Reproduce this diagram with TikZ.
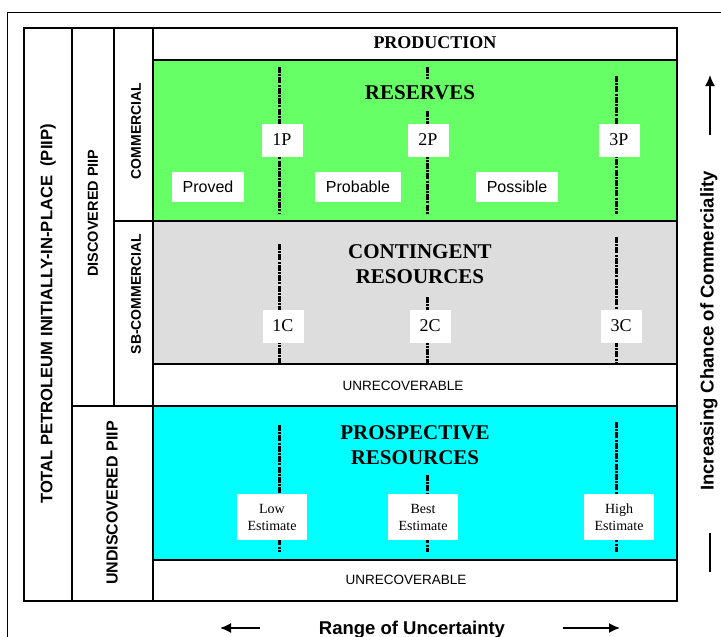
\documentclass[tikz,border=0pt]{standalone}
\usepackage{fontspec}
\setmainfont{Liberation Serif}
\setsansfont{Liberation Sans}
\usepackage{tikz}
\usetikzlibrary{positioning,arrows.meta}

\definecolor{resgreen}{RGB}{102,255,102}
\definecolor{congray}{RGB}{221,221,221}
\definecolor{procyan}{RGB}{0,255,255}

\begin{document}
\begin{tikzpicture}[x=1pt,y=-1pt,>={Latex[length=11pt,width=10pt]},
  frame/.style={line width=2.2pt},
  cut/.style={line width=3pt,dash pattern=on 6pt off 1.2pt on 2pt off 1.2pt},
  tag/.style={fill=white,font=\fontsize{18}{18}\selectfont,minimum width=41pt,minimum height=33pt,inner sep=0pt},
  cls/.style={fill=white,font=\sffamily\fontsize{16}{16}\selectfont,minimum height=30pt,inner xsep=11pt,inner ysep=0pt},
  est/.style={fill=white,font=\fontsize{14}{17}\selectfont,align=center,minimum width=70pt,minimum height=46pt,inner sep=0pt},
  head/.style={font=\bfseries\fontsize{21}{25}\selectfont,align=center,inner sep=1pt},
  side/.style={font=\sffamily\bfseries,rotate=90,inner sep=1pt},
  note/.style={font=\sffamily\fontsize{13.5}{13.5}\selectfont}]

  \useasboundingbox (0,0) rectangle (721,637);
  \draw[line width=1pt] (7,637) -- (7,12) -- (721,12);

  % class areas
  \fill[resgreen] (153,60) rectangle (677,221);
  \fill[congray] (153,221) rectangle (677,364);
  \fill[procyan] (153,406) rectangle (677,560);

  % cut-off lines
  \foreach \x/\a/\b in {279/67/214, 427/67/79, 427/111/214, 616/76/214,
                        279/244/364, 427/297/364, 616/237/364,
                        279/425/552, 427/475/552, 616/422/552}
    \draw[cut] (\x,\a) -- (\x,\b);

  % frame
  \draw[frame] (24,28) rectangle (677,601);
  \draw[frame] (72,28) -- (72,601);
  \draw[frame] (114,28) -- (114,406);
  \draw[frame] (153,28) -- (153,601);
  \draw[frame] (153,60) -- (677,60);
  \draw[frame] (114,221) -- (677,221);
  \draw[frame] (153,364) -- (677,364);
  \draw[frame] (72,406) -- (677,406);
  \draw[frame] (153,560) -- (677,560);

  % headings
  \node[head,font=\bfseries\fontsize{18}{18}\selectfont] (prod) at (435,43) {PRODUCTION};
  \node[head] (res) at (420,93) {RESERVES};
  \node[head] (cont) at (420,264) {CONTINGENT\\RESOURCES};
  \node[head] (prosp) at (415,445) {PROSPECTIVE\\RESOURCES};
  \node[note] (unrec1) at (403,386) {UNRECOVERABLE};
  \node[note] (unrec2) at (406,580) {UNRECOVERABLE};

  % reserves
  \node[tag] (p1) at (282,140) {1P};
  \node[tag] (p2) at (428,140) {2P};
  \node[tag] (p3) at (619,140) {3P};
  \node[cls] (proved) at (208,187) {Proved};
  \node[cls] (probable) at (358,187) {Probable};
  \node[cls] (possible) at (517,187) {Possible};

  % contingent
  \node[tag] (c1) at (283,326) {1C};
  \node[tag] (c2) at (430,326) {2C};
  \node[tag] (c3) at (621,326) {3C};

  % prospective
  \node[est] (low) at (272,517) {Low\\Estimate};
  \node[est] (best) at (423,517) {Best\\Estimate};
  \node[est] (high) at (619,517) {High\\Estimate};

  % side labels
  \node[side,font=\sffamily\bfseries\fontsize{16.6}{16.6}\selectfont] (piip) at (48,314) {TOTAL PETROLEUM INITIALLY-IN-PLACE~~(PIIP)};
  \node[side,font=\sffamily\bfseries\fontsize{14.5}{14.5}\selectfont] (disc) at (93,213) {DISCOVERED PIIP};
  \node[side,font=\sffamily\bfseries\fontsize{14}{14}\selectfont] (comm) at (136,131) {COMMERCIAL};
  \node[side,font=\sffamily\bfseries\fontsize{14}{14}\selectfont] (sbcomm) at (136,294) {SB-COMMERCIAL};
  \node[side,font=\sffamily\bfseries\fontsize{16}{16}\selectfont] (undisc) at (112,503) {UNDISCOVERED PIIP};

  % axes
  \node[side,font=\sffamily\bfseries\fontsize{18.5}{18.5}\selectfont] (chance) at (709,331) {Increasing Chance of Commerciality};
  \draw[->,line width=1.6pt] (710,135) -- (710,75);
  \draw[line width=1.6pt] (710,533) -- (710,572);
  \node[font=\sffamily\bfseries\fontsize{18.5}{18.5}\selectfont,anchor=base] (range) at (412,634) {Range of Uncertainty};
  \draw[->,line width=1.6pt] (260,628) -- (220,628);
  \draw[->,line width=1.6pt] (563,628) -- (620,628);
\end{tikzpicture}
\end{document}
